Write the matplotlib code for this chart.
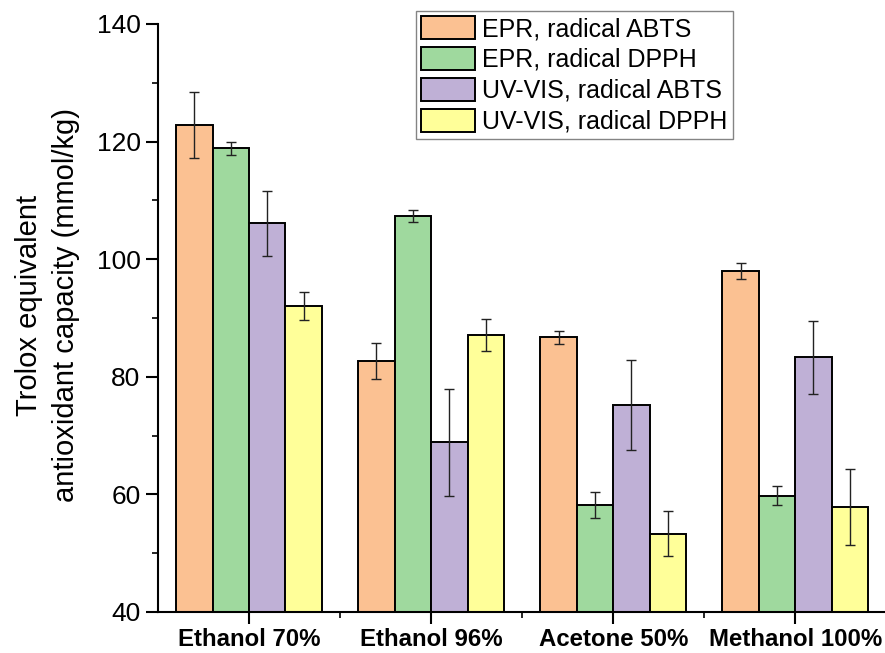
import matplotlib
matplotlib.use("Agg")
from matplotlib import pyplot as plt
from matplotlib.ticker import MultipleLocator
import numpy as np

plt.rcParams['font.family'] = ['Liberation Sans', 'DejaVu Sans']

solvents = ['Ethanol 70%', 'Ethanol 96%', 'Acetone 50%', 'Methanol 100%']
series = ['EPR, radical ABTS', 'EPR, radical DPPH',
          'UV-VIS, radical ABTS', 'UV-VIS, radical DPPH']

epr_abts = [122.8, 82.7, 86.7, 98.0]
epr_abts_err = [5.6, 3.1, 1.1, 1.4]
epr_dpph = [118.9, 107.3, 58.2, 59.8]
epr_dpph_err = [1.1, 1.0, 2.2, 1.6]
uv_abts = [106.1, 68.9, 75.2, 83.3]
uv_abts_err = [5.5, 9.1, 7.6, 6.2]
uv_dpph = [92.1, 87.1, 53.3, 57.9]
uv_dpph_err = [2.4, 2.8, 3.8, 6.5]

colors = ['#FBC192', '#9FD99E', '#BFB0D6', '#FFFF99']

values = [epr_abts, epr_dpph, uv_abts, uv_dpph]
errors = [epr_abts_err, epr_dpph_err, uv_abts_err, uv_dpph_err]

fig = plt.figure(figsize=(8.85, 6.53), dpi=100)
ax = fig.add_axes([0.1785, 0.0628, 0.823, 0.9005])

x = np.arange(len(solvents))
width = 0.2
for i, (vals, errs) in enumerate(zip(values, errors)):
    pos = x + (i - 1.5) * width
    ax.bar(pos, np.array(vals) - 40, width, bottom=40, color=colors[i],
           edgecolor='black', linewidth=1.4, label=series[i], zorder=2)
    ax.errorbar(pos, vals, yerr=errs, fmt='none', ecolor='#222222',
                elinewidth=1.0, capsize=3.8, capthick=1.0, zorder=3)

ax.set_xlim(-0.5, 3.5)
ax.set_ylim(40, 140)
ax.set_xticks(x)
ax.set_xticklabels(solvents, fontsize=17.3, fontweight='bold')
ax.set_xticks(x[:-1] + 0.5, minor=True)
ax.yaxis.set_major_locator(MultipleLocator(20))
ax.yaxis.set_minor_locator(MultipleLocator(10))
ax.tick_params(axis='y', labelsize=19, pad=4)
ax.tick_params(axis='x', pad=3)
ax.tick_params(which='major', direction='out', length=8.5, width=1.5)
ax.tick_params(which='minor', direction='out', length=4.5, width=1.2)

for side in ['top', 'right']:
    ax.spines[side].set_visible(False)
for side in ['left', 'bottom']:
    ax.spines[side].set_linewidth(1.5)

ax.set_ylabel('Trolox equivalent\nantioxidant capacity (mmol/kg)', fontsize=21,
              linespacing=1.4, labelpad=12)
ax.yaxis.label.set_y(0.522)

leg = ax.legend(loc='upper left', bbox_to_anchor=(416 / 885, 1 - 11 / 653),
                bbox_transform=fig.transFigure, fontsize=18, frameon=True,
                fancybox=False, edgecolor='#666666', borderpad=0.2,
                labelspacing=0.23, handlelength=2.15, handleheight=1.05,
                handletextpad=0.3, borderaxespad=0)
leg.get_frame().set_linewidth(1.0)

fig.savefig('out.png', dpi=100)
